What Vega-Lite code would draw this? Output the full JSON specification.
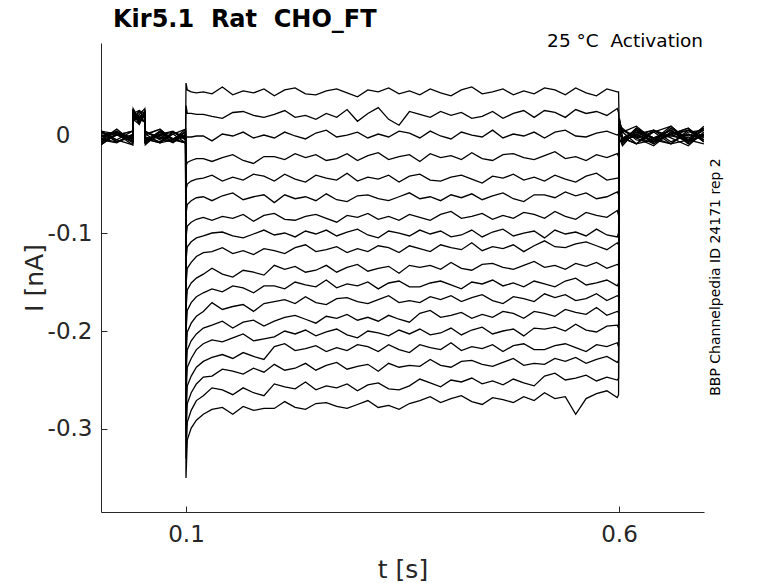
{
  "$schema": "https://vega.github.io/schema/vega-lite/v6.json",
  "width": 603,
  "height": 469,
  "autosize": {"type": "none"},
  "padding": {"left": 101, "top": 43, "right": 74, "bottom": 71},
  "background": "white",
  "config": {
    "view": {"stroke": null},
    "font": "DejaVu Sans"
  },
  "layer": [
    {
      "data": {"values": [
{"s":1,"t":0.002,"i":-0.005},{"s":1,"t":0.02,"i":0.006},{"s":1,"t":0.0385,"i":-0.007},{"s":1,"t":0.039,"i":0.021},{"s":1,"t":0.046,"i":0.017},{"s":1,"t":0.0525,"i":0.024},{"s":1,"t":0.053,"i":-0.008},{"s":1,"t":0.07,"i":0.001},{"s":1,"t":0.085,"i":0.004},{"s":1,"t":0.0995,"i":-0.005},
{"s":1,"t":0.1,"i":0.053},{"s":1,"t":0.1015,"i":0.046},{"s":1,"t":0.106,"i":0.044},{"s":1,"t":0.112,"i":0.043},{"s":1,"t":0.12,"i":0.044},
{"s":1,"t":0.13,"i":0.042},{"s":1,"t":0.142,"i":0.049},{"s":1,"t":0.154,"i":0.041},{"s":1,"t":0.166,"i":0.045},{"s":1,"t":0.178,"i":0.043},{"s":1,"t":0.19,"i":0.047},{"s":1,"t":0.202,"i":0.040},{"s":1,"t":0.214,"i":0.046},{"s":1,"t":0.226,"i":0.048},{"s":1,"t":0.238,"i":0.042},
{"s":1,"t":0.25,"i":0.041},{"s":1,"t":0.262,"i":0.045},{"s":1,"t":0.274,"i":0.047},{"s":1,"t":0.286,"i":0.043},{"s":1,"t":0.298,"i":0.039},{"s":1,"t":0.31,"i":0.046},{"s":1,"t":0.322,"i":0.044},{"s":1,"t":0.334,"i":0.048},{"s":1,"t":0.346,"i":0.042},{"s":1,"t":0.358,"i":0.045},
{"s":1,"t":0.37,"i":0.041},{"s":1,"t":0.382,"i":0.047},{"s":1,"t":0.394,"i":0.043},{"s":1,"t":0.406,"i":0.040},{"s":1,"t":0.418,"i":0.046},{"s":1,"t":0.43,"i":0.049},{"s":1,"t":0.442,"i":0.042},{"s":1,"t":0.454,"i":0.044},{"s":1,"t":0.466,"i":0.047},{"s":1,"t":0.478,"i":0.041},
{"s":1,"t":0.49,"i":0.045},{"s":1,"t":0.502,"i":0.042},{"s":1,"t":0.514,"i":0.048},{"s":1,"t":0.526,"i":0.046},{"s":1,"t":0.538,"i":0.041},{"s":1,"t":0.55,"i":0.048},{"s":1,"t":0.562,"i":0.043},{"s":1,"t":0.574,"i":0.040},{"s":1,"t":0.586,"i":0.047},{"s":1,"t":0.598,"i":0.044},
{"s":1,"t":0.5995,"i":0.044},{"s":1,"t":0.6005,"i":-0.006},{"s":1,"t":0.604,"i":-0.007},{"s":1,"t":0.62,"i":0.007},{"s":1,"t":0.64,"i":-0.003},{"s":1,"t":0.66,"i":-0.009},{"s":1,"t":0.68,"i":0.005},{"s":1,"t":0.698,"i":-0.001},

{"s":2,"t":0.002,"i":-0.005},{"s":2,"t":0.02,"i":-0.008},{"s":2,"t":0.0385,"i":0.001},{"s":2,"t":0.039,"i":0.024},{"s":2,"t":0.046,"i":0.017},{"s":2,"t":0.0525,"i":0.014},{"s":2,"t":0.053,"i":0.000},{"s":2,"t":0.07,"i":0.006},{"s":2,"t":0.085,"i":-0.005},{"s":2,"t":0.0995,"i":-0.002},
{"s":2,"t":0.1,"i":0.030},{"s":2,"t":0.1015,"i":0.022},{"s":2,"t":0.106,"i":0.022},{"s":2,"t":0.112,"i":0.021},{"s":2,"t":0.12,"i":0.021},
{"s":2,"t":0.13,"i":0.019},{"s":2,"t":0.142,"i":0.017},{"s":2,"t":0.154,"i":0.023},{"s":2,"t":0.166,"i":0.024},{"s":2,"t":0.178,"i":0.020},{"s":2,"t":0.19,"i":0.018},{"s":2,"t":0.202,"i":0.021},{"s":2,"t":0.214,"i":0.025},{"s":2,"t":0.226,"i":0.018},{"s":2,"t":0.238,"i":0.020},
{"s":2,"t":0.25,"i":0.016},{"s":2,"t":0.262,"i":0.022},{"s":2,"t":0.274,"i":0.018},{"s":2,"t":0.286,"i":0.026},{"s":2,"t":0.298,"i":0.014},{"s":2,"t":0.31,"i":0.022},{"s":2,"t":0.322,"i":0.028},{"s":2,"t":0.334,"i":0.016},{"s":2,"t":0.346,"i":0.010},{"s":2,"t":0.358,"i":0.024},
{"s":2,"t":0.37,"i":0.021},{"s":2,"t":0.382,"i":0.018},{"s":2,"t":0.394,"i":0.024},{"s":2,"t":0.406,"i":0.020},{"s":2,"t":0.418,"i":0.023},{"s":2,"t":0.43,"i":0.017},{"s":2,"t":0.442,"i":0.019},{"s":2,"t":0.454,"i":0.024},{"s":2,"t":0.466,"i":0.017},{"s":2,"t":0.478,"i":0.022},
{"s":2,"t":0.49,"i":0.025},{"s":2,"t":0.502,"i":0.018},{"s":2,"t":0.514,"i":0.025},{"s":2,"t":0.526,"i":0.023},{"s":2,"t":0.538,"i":0.018},{"s":2,"t":0.55,"i":0.026},{"s":2,"t":0.562,"i":0.022},{"s":2,"t":0.574,"i":0.024},{"s":2,"t":0.586,"i":0.020},{"s":2,"t":0.598,"i":0.027},
{"s":2,"t":0.5995,"i":0.023},{"s":2,"t":0.6005,"i":-0.003},{"s":2,"t":0.604,"i":-0.011},{"s":2,"t":0.62,"i":0.005},{"s":2,"t":0.64,"i":-0.003},{"s":2,"t":0.66,"i":0.001},{"s":2,"t":0.68,"i":-0.007},{"s":2,"t":0.698,"i":0.007},

{"s":3,"t":0.002,"i":-0.010},{"s":3,"t":0.02,"i":0.001},{"s":3,"t":0.0385,"i":-0.002},{"s":3,"t":0.039,"i":0.025},{"s":3,"t":0.046,"i":0.016},{"s":3,"t":0.0525,"i":0.021},{"s":3,"t":0.053,"i":-0.007},{"s":3,"t":0.07,"i":0.003},{"s":3,"t":0.085,"i":-0.004},{"s":3,"t":0.0995,"i":-0.008},
{"s":3,"t":0.1,"i":-0.003},{"s":3,"t":0.1015,"i":-0.002},{"s":3,"t":0.106,"i":-0.002},{"s":3,"t":0.112,"i":-0.001},{"s":3,"t":0.12,"i":-0.001},
{"s":3,"t":0.13,"i":-0.006},{"s":3,"t":0.142,"i":0.001},{"s":3,"t":0.154,"i":-0.001},{"s":3,"t":0.166,"i":0.003},{"s":3,"t":0.178,"i":-0.003},{"s":3,"t":0.19,"i":0.000},{"s":3,"t":0.202,"i":-0.003},{"s":3,"t":0.214,"i":0.003},{"s":3,"t":0.226,"i":-0.001},{"s":3,"t":0.238,"i":-0.004},
{"s":3,"t":0.25,"i":0.002},{"s":3,"t":0.262,"i":0.005},{"s":3,"t":0.274,"i":-0.002},{"s":3,"t":0.286,"i":0.000},{"s":3,"t":0.298,"i":0.003},{"s":3,"t":0.31,"i":-0.003},{"s":3,"t":0.322,"i":0.001},{"s":3,"t":0.334,"i":-0.002},{"s":3,"t":0.346,"i":0.004},{"s":3,"t":0.358,"i":0.002},
{"s":3,"t":0.37,"i":-0.003},{"s":3,"t":0.382,"i":0.004},{"s":3,"t":0.394,"i":-0.001},{"s":3,"t":0.406,"i":-0.004},{"s":3,"t":0.418,"i":0.003},{"s":3,"t":0.43,"i":0.000},{"s":3,"t":0.442,"i":-0.002},{"s":3,"t":0.454,"i":0.005},{"s":3,"t":0.466,"i":-0.003},{"s":3,"t":0.478,"i":0.001},
{"s":3,"t":0.49,"i":-0.001},{"s":3,"t":0.502,"i":0.003},{"s":3,"t":0.514,"i":-0.003},{"s":3,"t":0.526,"i":0.003},{"s":3,"t":0.538,"i":0.005},{"s":3,"t":0.55,"i":-0.001},{"s":3,"t":0.562,"i":-0.002},{"s":3,"t":0.574,"i":0.002},{"s":3,"t":0.586,"i":0.004},{"s":3,"t":0.598,"i":0.000},
{"s":3,"t":0.5995,"i":0.001},{"s":3,"t":0.6005,"i":0.002},{"s":3,"t":0.604,"i":0.007},{"s":3,"t":0.62,"i":-0.005},{"s":3,"t":0.64,"i":-0.007},{"s":3,"t":0.66,"i":0.001},{"s":3,"t":0.68,"i":0.005},{"s":3,"t":0.698,"i":-0.003},

{"s":4,"t":0.002,"i":-0.007},{"s":4,"t":0.02,"i":0.000},{"s":4,"t":0.0385,"i":0.004},{"s":4,"t":0.039,"i":0.016},{"s":4,"t":0.046,"i":0.011},{"s":4,"t":0.0525,"i":0.022},{"s":4,"t":0.053,"i":-0.002},{"s":4,"t":0.07,"i":-0.007},{"s":4,"t":0.085,"i":0.003},{"s":4,"t":0.0995,"i":-0.004},
{"s":4,"t":0.1,"i":-0.032},{"s":4,"t":0.1015,"i":-0.028},{"s":4,"t":0.106,"i":-0.026},{"s":4,"t":0.112,"i":-0.024},{"s":4,"t":0.12,"i":-0.024},
{"s":4,"t":0.13,"i":-0.027},{"s":4,"t":0.142,"i":-0.023},{"s":4,"t":0.154,"i":-0.020},{"s":4,"t":0.166,"i":-0.026},{"s":4,"t":0.178,"i":-0.029},{"s":4,"t":0.19,"i":-0.022},{"s":4,"t":0.202,"i":-0.022},{"s":4,"t":0.214,"i":-0.025},{"s":4,"t":0.226,"i":-0.019},{"s":4,"t":0.238,"i":-0.023},
{"s":4,"t":0.25,"i":-0.020},{"s":4,"t":0.262,"i":-0.026},{"s":4,"t":0.274,"i":-0.024},{"s":4,"t":0.286,"i":-0.019},{"s":4,"t":0.298,"i":-0.026},{"s":4,"t":0.31,"i":-0.021},{"s":4,"t":0.322,"i":-0.018},{"s":4,"t":0.334,"i":-0.025},{"s":4,"t":0.346,"i":-0.022},{"s":4,"t":0.358,"i":-0.020},
{"s":4,"t":0.37,"i":-0.027},{"s":4,"t":0.382,"i":-0.019},{"s":4,"t":0.394,"i":-0.023},{"s":4,"t":0.406,"i":-0.021},{"s":4,"t":0.418,"i":-0.025},{"s":4,"t":0.43,"i":-0.018},{"s":4,"t":0.442,"i":-0.024},{"s":4,"t":0.454,"i":-0.026},{"s":4,"t":0.466,"i":-0.020},{"s":4,"t":0.478,"i":-0.019},
{"s":4,"t":0.49,"i":-0.023},{"s":4,"t":0.502,"i":-0.025},{"s":4,"t":0.514,"i":-0.021},{"s":4,"t":0.526,"i":-0.017},{"s":4,"t":0.538,"i":-0.024},{"s":4,"t":0.55,"i":-0.022},{"s":4,"t":0.562,"i":-0.026},{"s":4,"t":0.574,"i":-0.020},{"s":4,"t":0.586,"i":-0.023},{"s":4,"t":0.598,"i":-0.019},
{"s":4,"t":0.5995,"i":-0.022},{"s":4,"t":0.6005,"i":0.003},{"s":4,"t":0.604,"i":-0.005},{"s":4,"t":0.62,"i":-0.001},{"s":4,"t":0.64,"i":-0.009},{"s":4,"t":0.66,"i":0.003},{"s":4,"t":0.68,"i":-0.003},{"s":4,"t":0.698,"i":0.005},

{"s":5,"t":0.002,"i":0.003},{"s":5,"t":0.02,"i":-0.007},{"s":5,"t":0.0385,"i":0.000},{"s":5,"t":0.039,"i":0.016},{"s":5,"t":0.046,"i":0.025},{"s":5,"t":0.0525,"i":0.022},{"s":5,"t":0.053,"i":-0.007},{"s":5,"t":0.07,"i":0.004},{"s":5,"t":0.085,"i":-0.004},{"s":5,"t":0.0995,"i":-0.008},
{"s":5,"t":0.1,"i":-0.056},{"s":5,"t":0.1015,"i":-0.050},{"s":5,"t":0.106,"i":-0.047},{"s":5,"t":0.112,"i":-0.045},{"s":5,"t":0.12,"i":-0.044},
{"s":5,"t":0.13,"i":-0.041},{"s":5,"t":0.142,"i":-0.047},{"s":5,"t":0.154,"i":-0.043},{"s":5,"t":0.166,"i":-0.046},{"s":5,"t":0.178,"i":-0.040},{"s":5,"t":0.19,"i":-0.042},{"s":5,"t":0.202,"i":-0.047},{"s":5,"t":0.214,"i":-0.040},{"s":5,"t":0.226,"i":-0.045},{"s":5,"t":0.238,"i":-0.048},
{"s":5,"t":0.25,"i":-0.041},{"s":5,"t":0.262,"i":-0.044},{"s":5,"t":0.274,"i":-0.046},{"s":5,"t":0.286,"i":-0.039},{"s":5,"t":0.298,"i":-0.047},{"s":5,"t":0.31,"i":-0.043},{"s":5,"t":0.322,"i":-0.045},{"s":5,"t":0.334,"i":-0.041},{"s":5,"t":0.346,"i":-0.048},{"s":5,"t":0.358,"i":-0.042},
{"s":5,"t":0.37,"i":-0.040},{"s":5,"t":0.382,"i":-0.046},{"s":5,"t":0.394,"i":-0.047},{"s":5,"t":0.406,"i":-0.043},{"s":5,"t":0.418,"i":-0.041},{"s":5,"t":0.43,"i":-0.045},{"s":5,"t":0.442,"i":-0.049},{"s":5,"t":0.454,"i":-0.042},{"s":5,"t":0.466,"i":-0.044},{"s":5,"t":0.478,"i":-0.040},
{"s":5,"t":0.49,"i":-0.046},{"s":5,"t":0.502,"i":-0.043},{"s":5,"t":0.514,"i":-0.047},{"s":5,"t":0.526,"i":-0.041},{"s":5,"t":0.538,"i":-0.045},{"s":5,"t":0.55,"i":-0.048},{"s":5,"t":0.562,"i":-0.042},{"s":5,"t":0.574,"i":-0.039},{"s":5,"t":0.586,"i":-0.046},{"s":5,"t":0.598,"i":-0.044},
{"s":5,"t":0.5995,"i":-0.044},{"s":5,"t":0.6005,"i":0.004},{"s":5,"t":0.604,"i":-0.003},{"s":5,"t":0.62,"i":-0.009},{"s":5,"t":0.64,"i":0.003},{"s":5,"t":0.66,"i":0.009},{"s":5,"t":0.68,"i":-0.005},{"s":5,"t":0.698,"i":-0.001},

{"s":6,"t":0.002,"i":-0.008},{"s":6,"t":0.02,"i":0.000},{"s":6,"t":0.0385,"i":0.004},{"s":6,"t":0.039,"i":0.014},{"s":6,"t":0.046,"i":0.019},{"s":6,"t":0.0525,"i":0.022},{"s":6,"t":0.053,"i":-0.010},{"s":6,"t":0.07,"i":0.003},{"s":6,"t":0.085,"i":-0.004},{"s":6,"t":0.0995,"i":0.000},
{"s":6,"t":0.1,"i":-0.080},{"s":6,"t":0.1015,"i":-0.071},{"s":6,"t":0.106,"i":-0.067},{"s":6,"t":0.112,"i":-0.064},{"s":6,"t":0.12,"i":-0.063},
{"s":6,"t":0.13,"i":-0.067},{"s":6,"t":0.142,"i":-0.062},{"s":6,"t":0.154,"i":-0.059},{"s":6,"t":0.166,"i":-0.066},{"s":6,"t":0.178,"i":-0.063},{"s":6,"t":0.19,"i":-0.061},{"s":6,"t":0.202,"i":-0.069},{"s":6,"t":0.214,"i":-0.061},{"s":6,"t":0.226,"i":-0.065},{"s":6,"t":0.238,"i":-0.063},
{"s":6,"t":0.25,"i":-0.067},{"s":6,"t":0.262,"i":-0.060},{"s":6,"t":0.274,"i":-0.066},{"s":6,"t":0.286,"i":-0.068},{"s":6,"t":0.298,"i":-0.062},{"s":6,"t":0.31,"i":-0.061},{"s":6,"t":0.322,"i":-0.065},{"s":6,"t":0.334,"i":-0.067},{"s":6,"t":0.346,"i":-0.063},{"s":6,"t":0.358,"i":-0.059},
{"s":6,"t":0.37,"i":-0.065},{"s":6,"t":0.382,"i":-0.063},{"s":6,"t":0.394,"i":-0.067},{"s":6,"t":0.406,"i":-0.061},{"s":6,"t":0.418,"i":-0.064},{"s":6,"t":0.43,"i":-0.060},{"s":6,"t":0.442,"i":-0.066},{"s":6,"t":0.454,"i":-0.062},{"s":6,"t":0.466,"i":-0.059},{"s":6,"t":0.478,"i":-0.065},
{"s":6,"t":0.49,"i":-0.068},{"s":6,"t":0.502,"i":-0.061},{"s":6,"t":0.514,"i":-0.061},{"s":6,"t":0.526,"i":-0.064},{"s":6,"t":0.538,"i":-0.058},{"s":6,"t":0.55,"i":-0.062},{"s":6,"t":0.562,"i":-0.059},{"s":6,"t":0.574,"i":-0.065},{"s":6,"t":0.586,"i":-0.063},{"s":6,"t":0.598,"i":-0.058},
{"s":6,"t":0.5995,"i":-0.061},{"s":6,"t":0.6005,"i":0.005},{"s":6,"t":0.604,"i":0.005},{"s":6,"t":0.62,"i":-0.003},{"s":6,"t":0.64,"i":0.003},{"s":6,"t":0.66,"i":-0.009},{"s":6,"t":0.68,"i":-0.005},{"s":6,"t":0.698,"i":0.005},

{"s":7,"t":0.002,"i":-0.007},{"s":7,"t":0.02,"i":0.000},{"s":7,"t":0.0385,"i":-0.004},{"s":7,"t":0.039,"i":0.024},{"s":7,"t":0.046,"i":0.013},{"s":7,"t":0.0525,"i":0.022},{"s":7,"t":0.053,"i":0.004},{"s":7,"t":0.07,"i":-0.005},{"s":7,"t":0.085,"i":-0.007},{"s":7,"t":0.0995,"i":0.000},
{"s":7,"t":0.1,"i":-0.105},{"s":7,"t":0.1015,"i":-0.093},{"s":7,"t":0.106,"i":-0.089},{"s":7,"t":0.112,"i":-0.086},{"s":7,"t":0.12,"i":-0.084},
{"s":7,"t":0.13,"i":-0.087},{"s":7,"t":0.142,"i":-0.083},{"s":7,"t":0.154,"i":-0.085},{"s":7,"t":0.166,"i":-0.081},{"s":7,"t":0.178,"i":-0.088},{"s":7,"t":0.19,"i":-0.082},{"s":7,"t":0.202,"i":-0.080},{"s":7,"t":0.214,"i":-0.086},{"s":7,"t":0.226,"i":-0.087},{"s":7,"t":0.238,"i":-0.083},
{"s":7,"t":0.25,"i":-0.081},{"s":7,"t":0.262,"i":-0.085},{"s":7,"t":0.274,"i":-0.089},{"s":7,"t":0.286,"i":-0.082},{"s":7,"t":0.298,"i":-0.084},{"s":7,"t":0.31,"i":-0.080},{"s":7,"t":0.322,"i":-0.086},{"s":7,"t":0.334,"i":-0.083},{"s":7,"t":0.346,"i":-0.087},{"s":7,"t":0.358,"i":-0.081},
{"s":7,"t":0.37,"i":-0.084},{"s":7,"t":0.382,"i":-0.087},{"s":7,"t":0.394,"i":-0.081},{"s":7,"t":0.406,"i":-0.078},{"s":7,"t":0.418,"i":-0.085},{"s":7,"t":0.43,"i":-0.083},{"s":7,"t":0.442,"i":-0.080},{"s":7,"t":0.454,"i":-0.086},{"s":7,"t":0.466,"i":-0.082},{"s":7,"t":0.478,"i":-0.085},
{"s":7,"t":0.49,"i":-0.079},{"s":7,"t":0.502,"i":-0.081},{"s":7,"t":0.514,"i":-0.085},{"s":7,"t":0.526,"i":-0.078},{"s":7,"t":0.538,"i":-0.083},{"s":7,"t":0.55,"i":-0.086},{"s":7,"t":0.562,"i":-0.079},{"s":7,"t":0.574,"i":-0.082},{"s":7,"t":0.586,"i":-0.084},{"s":7,"t":0.598,"i":-0.077},
{"s":7,"t":0.5995,"i":-0.082},{"s":7,"t":0.6005,"i":0.006},{"s":7,"t":0.604,"i":-0.003},{"s":7,"t":0.62,"i":-0.009},{"s":7,"t":0.64,"i":0.005},{"s":7,"t":0.66,"i":-0.001},{"s":7,"t":0.68,"i":-0.005},{"s":7,"t":0.698,"i":0.009},

{"s":8,"t":0.002,"i":0.001},{"s":8,"t":0.02,"i":0.003},{"s":8,"t":0.0385,"i":-0.004},{"s":8,"t":0.039,"i":0.014},{"s":8,"t":0.046,"i":0.021},{"s":8,"t":0.0525,"i":0.027},{"s":8,"t":0.053,"i":-0.005},{"s":8,"t":0.07,"i":-0.002},{"s":8,"t":0.085,"i":-0.008},{"s":8,"t":0.0995,"i":0.001},
{"s":8,"t":0.1,"i":-0.128},{"s":8,"t":0.1015,"i":-0.114},{"s":8,"t":0.106,"i":-0.109},{"s":8,"t":0.112,"i":-0.105},{"s":8,"t":0.12,"i":-0.103},
{"s":8,"t":0.13,"i":-0.100},{"s":8,"t":0.142,"i":-0.099},{"s":8,"t":0.154,"i":-0.103},{"s":8,"t":0.166,"i":-0.105},{"s":8,"t":0.178,"i":-0.101},{"s":8,"t":0.19,"i":-0.097},{"s":8,"t":0.202,"i":-0.102},{"s":8,"t":0.214,"i":-0.100},{"s":8,"t":0.226,"i":-0.104},{"s":8,"t":0.238,"i":-0.098},
{"s":8,"t":0.25,"i":-0.101},{"s":8,"t":0.262,"i":-0.097},{"s":8,"t":0.274,"i":-0.103},{"s":8,"t":0.286,"i":-0.099},{"s":8,"t":0.298,"i":-0.096},{"s":8,"t":0.31,"i":-0.102},{"s":8,"t":0.322,"i":-0.105},{"s":8,"t":0.334,"i":-0.098},{"s":8,"t":0.346,"i":-0.100},{"s":8,"t":0.358,"i":-0.103},
{"s":8,"t":0.37,"i":-0.097},{"s":8,"t":0.382,"i":-0.101},{"s":8,"t":0.394,"i":-0.098},{"s":8,"t":0.406,"i":-0.104},{"s":8,"t":0.418,"i":-0.102},{"s":8,"t":0.43,"i":-0.097},{"s":8,"t":0.442,"i":-0.104},{"s":8,"t":0.454,"i":-0.099},{"s":8,"t":0.466,"i":-0.096},{"s":8,"t":0.478,"i":-0.103},
{"s":8,"t":0.49,"i":-0.100},{"s":8,"t":0.502,"i":-0.098},{"s":8,"t":0.514,"i":-0.105},{"s":8,"t":0.526,"i":-0.097},{"s":8,"t":0.538,"i":-0.101},{"s":8,"t":0.55,"i":-0.099},{"s":8,"t":0.562,"i":-0.103},{"s":8,"t":0.574,"i":-0.096},{"s":8,"t":0.586,"i":-0.102},{"s":8,"t":0.598,"i":-0.104},
{"s":8,"t":0.5995,"i":-0.100},{"s":8,"t":0.6005,"i":0.007},{"s":8,"t":0.604,"i":-0.003},{"s":8,"t":0.62,"i":0.001},{"s":8,"t":0.64,"i":-0.007},{"s":8,"t":0.66,"i":0.007},{"s":8,"t":0.68,"i":-0.005},{"s":8,"t":0.698,"i":-0.009},

{"s":9,"t":0.002,"i":-0.002},{"s":9,"t":0.02,"i":0.004},{"s":9,"t":0.0385,"i":-0.005},{"s":9,"t":0.039,"i":0.021},{"s":9,"t":0.046,"i":0.014},{"s":9,"t":0.0525,"i":0.024},{"s":9,"t":0.053,"i":-0.004},{"s":9,"t":0.07,"i":-0.008},{"s":9,"t":0.085,"i":0.001},{"s":9,"t":0.0995,"i":0.006},
{"s":9,"t":0.1,"i":-0.153},{"s":9,"t":0.1015,"i":-0.136},{"s":9,"t":0.106,"i":-0.130},{"s":9,"t":0.112,"i":-0.124},{"s":9,"t":0.12,"i":-0.120},
{"s":9,"t":0.13,"i":-0.119},{"s":9,"t":0.142,"i":-0.115},{"s":9,"t":0.154,"i":-0.121},{"s":9,"t":0.166,"i":-0.118},{"s":9,"t":0.178,"i":-0.122},{"s":9,"t":0.19,"i":-0.116},{"s":9,"t":0.202,"i":-0.118},{"s":9,"t":0.214,"i":-0.121},{"s":9,"t":0.226,"i":-0.115},{"s":9,"t":0.238,"i":-0.112},
{"s":9,"t":0.25,"i":-0.119},{"s":9,"t":0.262,"i":-0.117},{"s":9,"t":0.274,"i":-0.114},{"s":9,"t":0.286,"i":-0.120},{"s":9,"t":0.298,"i":-0.116},{"s":9,"t":0.31,"i":-0.119},{"s":9,"t":0.322,"i":-0.113},{"s":9,"t":0.334,"i":-0.115},{"s":9,"t":0.346,"i":-0.120},{"s":9,"t":0.358,"i":-0.113},
{"s":9,"t":0.37,"i":-0.116},{"s":9,"t":0.382,"i":-0.119},{"s":9,"t":0.394,"i":-0.112},{"s":9,"t":0.406,"i":-0.115},{"s":9,"t":0.418,"i":-0.117},{"s":9,"t":0.43,"i":-0.110},{"s":9,"t":0.442,"i":-0.118},{"s":9,"t":0.454,"i":-0.114},{"s":9,"t":0.466,"i":-0.116},{"s":9,"t":0.478,"i":-0.112},
{"s":9,"t":0.49,"i":-0.119},{"s":9,"t":0.502,"i":-0.113},{"s":9,"t":0.514,"i":-0.108},{"s":9,"t":0.526,"i":-0.114},{"s":9,"t":0.538,"i":-0.115},{"s":9,"t":0.55,"i":-0.111},{"s":9,"t":0.562,"i":-0.109},{"s":9,"t":0.574,"i":-0.113},{"s":9,"t":0.586,"i":-0.117},{"s":9,"t":0.598,"i":-0.110},
{"s":9,"t":0.5995,"i":-0.112},{"s":9,"t":0.6005,"i":0.008},{"s":9,"t":0.604,"i":-0.007},{"s":9,"t":0.62,"i":0.001},{"s":9,"t":0.64,"i":0.005},{"s":9,"t":0.66,"i":-0.003},{"s":9,"t":0.68,"i":-0.011},{"s":9,"t":0.698,"i":0.003},

{"s":10,"t":0.002,"i":0.004},{"s":10,"t":0.02,"i":-0.005},{"s":10,"t":0.0385,"i":-0.010},{"s":10,"t":0.039,"i":0.022},{"s":10,"t":0.046,"i":0.019},{"s":10,"t":0.0525,"i":0.014},{"s":10,"t":0.053,"i":0.003},{"s":10,"t":0.07,"i":-0.004},{"s":10,"t":0.085,"i":0.001},{"s":10,"t":0.0995,"i":-0.008},
{"s":10,"t":0.1,"i":-0.178},{"s":10,"t":0.1015,"i":-0.158},{"s":10,"t":0.106,"i":-0.151},{"s":10,"t":0.112,"i":-0.146},{"s":10,"t":0.12,"i":-0.142},
{"s":10,"t":0.13,"i":-0.136},{"s":10,"t":0.142,"i":-0.142},{"s":10,"t":0.154,"i":-0.145},{"s":10,"t":0.166,"i":-0.138},{"s":10,"t":0.178,"i":-0.140},{"s":10,"t":0.19,"i":-0.143},{"s":10,"t":0.202,"i":-0.133},{"s":10,"t":0.214,"i":-0.137},{"s":10,"t":0.226,"i":-0.134},{"s":10,"t":0.238,"i":-0.140},
{"s":10,"t":0.25,"i":-0.138},{"s":10,"t":0.262,"i":-0.133},{"s":10,"t":0.274,"i":-0.140},{"s":10,"t":0.286,"i":-0.135},{"s":10,"t":0.298,"i":-0.132},{"s":10,"t":0.31,"i":-0.139},{"s":10,"t":0.322,"i":-0.136},{"s":10,"t":0.334,"i":-0.134},{"s":10,"t":0.346,"i":-0.141},{"s":10,"t":0.358,"i":-0.133},
{"s":10,"t":0.37,"i":-0.135},{"s":10,"t":0.382,"i":-0.133},{"s":10,"t":0.394,"i":-0.137},{"s":10,"t":0.406,"i":-0.130},{"s":10,"t":0.418,"i":-0.136},{"s":10,"t":0.43,"i":-0.138},{"s":10,"t":0.442,"i":-0.132},{"s":10,"t":0.454,"i":-0.131},{"s":10,"t":0.466,"i":-0.135},{"s":10,"t":0.478,"i":-0.137},
{"s":10,"t":0.49,"i":-0.133},{"s":10,"t":0.502,"i":-0.129},{"s":10,"t":0.514,"i":-0.135},{"s":10,"t":0.526,"i":-0.133},{"s":10,"t":0.538,"i":-0.137},{"s":10,"t":0.55,"i":-0.131},{"s":10,"t":0.562,"i":-0.134},{"s":10,"t":0.574,"i":-0.130},{"s":10,"t":0.586,"i":-0.136},{"s":10,"t":0.598,"i":-0.132},
{"s":10,"t":0.5995,"i":-0.133},{"s":10,"t":0.6005,"i":0.009},{"s":10,"t":0.604,"i":-0.009},{"s":10,"t":0.62,"i":0.003},{"s":10,"t":0.64,"i":-0.003},{"s":10,"t":0.66,"i":0.005},{"s":10,"t":0.68,"i":-0.007},{"s":10,"t":0.698,"i":0.001},

{"s":11,"t":0.002,"i":0.000},{"s":11,"t":0.02,"i":-0.005},{"s":11,"t":0.0385,"i":0.004},{"s":11,"t":0.039,"i":0.022},{"s":11,"t":0.046,"i":0.014},{"s":11,"t":0.0525,"i":0.025},{"s":11,"t":0.053,"i":-0.004},{"s":11,"t":0.07,"i":-0.008},{"s":11,"t":0.085,"i":0.003},{"s":11,"t":0.0995,"i":-0.002},
{"s":11,"t":0.1,"i":-0.201},{"s":11,"t":0.1015,"i":-0.179},{"s":11,"t":0.106,"i":-0.171},{"s":11,"t":0.112,"i":-0.165},{"s":11,"t":0.12,"i":-0.161},
{"s":11,"t":0.13,"i":-0.157},{"s":11,"t":0.142,"i":-0.160},{"s":11,"t":0.154,"i":-0.154},{"s":11,"t":0.166,"i":-0.156},{"s":11,"t":0.178,"i":-0.161},{"s":11,"t":0.19,"i":-0.154},{"s":11,"t":0.202,"i":-0.154},{"s":11,"t":0.214,"i":-0.157},{"s":11,"t":0.226,"i":-0.150},{"s":11,"t":0.238,"i":-0.153},
{"s":11,"t":0.25,"i":-0.155},{"s":11,"t":0.262,"i":-0.148},{"s":11,"t":0.274,"i":-0.156},{"s":11,"t":0.286,"i":-0.152},{"s":11,"t":0.298,"i":-0.154},{"s":11,"t":0.31,"i":-0.150},{"s":11,"t":0.322,"i":-0.157},{"s":11,"t":0.334,"i":-0.151},{"s":11,"t":0.346,"i":-0.149},{"s":11,"t":0.358,"i":-0.155},
{"s":11,"t":0.37,"i":-0.155},{"s":11,"t":0.382,"i":-0.151},{"s":11,"t":0.394,"i":-0.149},{"s":11,"t":0.406,"i":-0.153},{"s":11,"t":0.418,"i":-0.157},{"s":11,"t":0.43,"i":-0.150},{"s":11,"t":0.442,"i":-0.152},{"s":11,"t":0.454,"i":-0.148},{"s":11,"t":0.466,"i":-0.154},{"s":11,"t":0.478,"i":-0.151},
{"s":11,"t":0.49,"i":-0.155},{"s":11,"t":0.502,"i":-0.149},{"s":11,"t":0.514,"i":-0.152},{"s":11,"t":0.526,"i":-0.155},{"s":11,"t":0.538,"i":-0.149},{"s":11,"t":0.55,"i":-0.146},{"s":11,"t":0.562,"i":-0.153},{"s":11,"t":0.574,"i":-0.151},{"s":11,"t":0.586,"i":-0.148},{"s":11,"t":0.598,"i":-0.154},
{"s":11,"t":0.5995,"i":-0.151},{"s":11,"t":0.6005,"i":0.010},{"s":11,"t":0.604,"i":0.003},{"s":11,"t":0.62,"i":0.009},{"s":11,"t":0.64,"i":-0.005},{"s":11,"t":0.66,"i":-0.001},{"s":11,"t":0.68,"i":0.005},{"s":11,"t":0.698,"i":-0.007},

{"s":12,"t":0.002,"i":0.004},{"s":12,"t":0.02,"i":-0.007},{"s":12,"t":0.0385,"i":-0.002},{"s":12,"t":0.039,"i":0.022},{"s":12,"t":0.046,"i":0.011},{"s":12,"t":0.0525,"i":0.024},{"s":12,"t":0.053,"i":-0.004},{"s":12,"t":0.07,"i":0.000},{"s":12,"t":0.085,"i":-0.007},{"s":12,"t":0.0995,"i":0.004},
{"s":12,"t":0.1,"i":-0.226},{"s":12,"t":0.1015,"i":-0.201},{"s":12,"t":0.106,"i":-0.192},{"s":12,"t":0.112,"i":-0.185},{"s":12,"t":0.12,"i":-0.180},
{"s":12,"t":0.13,"i":-0.171},{"s":12,"t":0.142,"i":-0.178},{"s":12,"t":0.154,"i":-0.175},{"s":12,"t":0.166,"i":-0.173},{"s":12,"t":0.178,"i":-0.180},{"s":12,"t":0.19,"i":-0.172},{"s":12,"t":0.202,"i":-0.170},{"s":12,"t":0.214,"i":-0.168},{"s":12,"t":0.226,"i":-0.172},{"s":12,"t":0.238,"i":-0.165},
{"s":12,"t":0.25,"i":-0.171},{"s":12,"t":0.262,"i":-0.173},{"s":12,"t":0.274,"i":-0.167},{"s":12,"t":0.286,"i":-0.166},{"s":12,"t":0.298,"i":-0.170},{"s":12,"t":0.31,"i":-0.172},{"s":12,"t":0.322,"i":-0.168},{"s":12,"t":0.334,"i":-0.164},{"s":12,"t":0.346,"i":-0.171},{"s":12,"t":0.358,"i":-0.169},
{"s":12,"t":0.37,"i":-0.171},{"s":12,"t":0.382,"i":-0.165},{"s":12,"t":0.394,"i":-0.168},{"s":12,"t":0.406,"i":-0.164},{"s":12,"t":0.418,"i":-0.170},{"s":12,"t":0.43,"i":-0.166},{"s":12,"t":0.442,"i":-0.163},{"s":12,"t":0.454,"i":-0.169},{"s":12,"t":0.466,"i":-0.172},{"s":12,"t":0.478,"i":-0.165},
{"s":12,"t":0.49,"i":-0.167},{"s":12,"t":0.502,"i":-0.170},{"s":12,"t":0.514,"i":-0.162},{"s":12,"t":0.526,"i":-0.166},{"s":12,"t":0.538,"i":-0.163},{"s":12,"t":0.55,"i":-0.169},{"s":12,"t":0.562,"i":-0.167},{"s":12,"t":0.574,"i":-0.162},{"s":12,"t":0.586,"i":-0.169},{"s":12,"t":0.598,"i":-0.164},
{"s":12,"t":0.5995,"i":-0.165},{"s":12,"t":0.6005,"i":0.011},{"s":12,"t":0.604,"i":0.003},{"s":12,"t":0.62,"i":-0.009},{"s":12,"t":0.64,"i":-0.005},{"s":12,"t":0.66,"i":0.005},{"s":12,"t":0.68,"i":-0.009},{"s":12,"t":0.698,"i":0.001},

{"s":13,"t":0.002,"i":-0.004},{"s":13,"t":0.02,"i":0.003},{"s":13,"t":0.0385,"i":-0.008},{"s":13,"t":0.039,"i":0.022},{"s":13,"t":0.046,"i":0.025},{"s":13,"t":0.0525,"i":0.016},{"s":13,"t":0.053,"i":-0.007},{"s":13,"t":0.07,"i":0.000},{"s":13,"t":0.085,"i":0.003},{"s":13,"t":0.0995,"i":-0.004},
{"s":13,"t":0.1,"i":-0.246},{"s":13,"t":0.1015,"i":-0.219},{"s":13,"t":0.106,"i":-0.210},{"s":13,"t":0.112,"i":-0.203},{"s":13,"t":0.12,"i":-0.197},
{"s":13,"t":0.13,"i":-0.194},{"s":13,"t":0.142,"i":-0.190},{"s":13,"t":0.154,"i":-0.197},{"s":13,"t":0.166,"i":-0.191},{"s":13,"t":0.178,"i":-0.189},{"s":13,"t":0.19,"i":-0.195},{"s":13,"t":0.202,"i":-0.190},{"s":13,"t":0.214,"i":-0.186},{"s":13,"t":0.226,"i":-0.184},{"s":13,"t":0.238,"i":-0.188},
{"s":13,"t":0.25,"i":-0.192},{"s":13,"t":0.262,"i":-0.185},{"s":13,"t":0.274,"i":-0.187},{"s":13,"t":0.286,"i":-0.183},{"s":13,"t":0.298,"i":-0.189},{"s":13,"t":0.31,"i":-0.186},{"s":13,"t":0.322,"i":-0.190},{"s":13,"t":0.334,"i":-0.184},{"s":13,"t":0.346,"i":-0.188},{"s":13,"t":0.358,"i":-0.191},
{"s":13,"t":0.37,"i":-0.182},{"s":13,"t":0.382,"i":-0.179},{"s":13,"t":0.394,"i":-0.186},{"s":13,"t":0.406,"i":-0.184},{"s":13,"t":0.418,"i":-0.181},{"s":13,"t":0.43,"i":-0.187},{"s":13,"t":0.442,"i":-0.183},{"s":13,"t":0.454,"i":-0.186},{"s":13,"t":0.466,"i":-0.180},{"s":13,"t":0.478,"i":-0.182},
{"s":13,"t":0.49,"i":-0.187},{"s":13,"t":0.502,"i":-0.180},{"s":13,"t":0.514,"i":-0.182},{"s":13,"t":0.526,"i":-0.185},{"s":13,"t":0.538,"i":-0.178},{"s":13,"t":0.55,"i":-0.181},{"s":13,"t":0.562,"i":-0.183},{"s":13,"t":0.574,"i":-0.176},{"s":13,"t":0.586,"i":-0.184},{"s":13,"t":0.598,"i":-0.180},
{"s":13,"t":0.5995,"i":-0.181},{"s":13,"t":0.6005,"i":0.012},{"s":13,"t":0.604,"i":0.005},{"s":13,"t":0.62,"i":-0.001},{"s":13,"t":0.64,"i":-0.005},{"s":13,"t":0.66,"i":0.009},{"s":13,"t":0.68,"i":-0.007},{"s":13,"t":0.698,"i":0.001},

{"s":14,"t":0.002,"i":-0.004},{"s":14,"t":0.02,"i":-0.007},{"s":14,"t":0.0385,"i":0.000},{"s":14,"t":0.039,"i":0.027},{"s":14,"t":0.046,"i":0.016},{"s":14,"t":0.0525,"i":0.019},{"s":14,"t":0.053,"i":-0.008},{"s":14,"t":0.07,"i":0.001},{"s":14,"t":0.085,"i":-0.004},{"s":14,"t":0.0995,"i":0.003},
{"s":14,"t":0.1,"i":-0.267},{"s":14,"t":0.1015,"i":-0.237},{"s":14,"t":0.106,"i":-0.228},{"s":14,"t":0.112,"i":-0.219},{"s":14,"t":0.12,"i":-0.213},
{"s":14,"t":0.13,"i":-0.209},{"s":14,"t":0.142,"i":-0.211},{"s":14,"t":0.154,"i":-0.207},{"s":14,"t":0.166,"i":-0.203},{"s":14,"t":0.178,"i":-0.210},{"s":14,"t":0.19,"i":-0.208},{"s":14,"t":0.202,"i":-0.206},{"s":14,"t":0.214,"i":-0.200},{"s":14,"t":0.226,"i":-0.203},{"s":14,"t":0.238,"i":-0.199},
{"s":14,"t":0.25,"i":-0.205},{"s":14,"t":0.262,"i":-0.201},{"s":14,"t":0.274,"i":-0.198},{"s":14,"t":0.286,"i":-0.204},{"s":14,"t":0.298,"i":-0.207},{"s":14,"t":0.31,"i":-0.200},{"s":14,"t":0.322,"i":-0.202},{"s":14,"t":0.334,"i":-0.205},{"s":14,"t":0.346,"i":-0.199},{"s":14,"t":0.358,"i":-0.203},
{"s":14,"t":0.37,"i":-0.198},{"s":14,"t":0.382,"i":-0.204},{"s":14,"t":0.394,"i":-0.202},{"s":14,"t":0.406,"i":-0.197},{"s":14,"t":0.418,"i":-0.204},{"s":14,"t":0.43,"i":-0.199},{"s":14,"t":0.442,"i":-0.196},{"s":14,"t":0.454,"i":-0.203},{"s":14,"t":0.466,"i":-0.200},{"s":14,"t":0.478,"i":-0.198},
{"s":14,"t":0.49,"i":-0.205},{"s":14,"t":0.502,"i":-0.197},{"s":14,"t":0.514,"i":-0.198},{"s":14,"t":0.526,"i":-0.196},{"s":14,"t":0.538,"i":-0.200},{"s":14,"t":0.55,"i":-0.193},{"s":14,"t":0.562,"i":-0.199},{"s":14,"t":0.574,"i":-0.201},{"s":14,"t":0.586,"i":-0.195},{"s":14,"t":0.598,"i":-0.194},
{"s":14,"t":0.5995,"i":-0.197},{"s":14,"t":0.6005,"i":0.013},{"s":14,"t":0.604,"i":-0.007},{"s":14,"t":0.62,"i":0.007},{"s":14,"t":0.64,"i":-0.005},{"s":14,"t":0.66,"i":-0.009},{"s":14,"t":0.68,"i":0.003},{"s":14,"t":0.698,"i":0.005},

{"s":15,"t":0.002,"i":-0.005},{"s":15,"t":0.02,"i":0.000},{"s":15,"t":0.0385,"i":-0.007},{"s":15,"t":0.039,"i":0.024},{"s":15,"t":0.046,"i":0.017},{"s":15,"t":0.0525,"i":0.013},{"s":15,"t":0.053,"i":0.001},{"s":15,"t":0.07,"i":0.006},{"s":15,"t":0.085,"i":-0.005},{"s":15,"t":0.0995,"i":-0.002},
{"s":15,"t":0.1,"i":-0.288},{"s":15,"t":0.1015,"i":-0.256},{"s":15,"t":0.106,"i":-0.246},{"s":15,"t":0.112,"i":-0.237},{"s":15,"t":0.12,"i":-0.231},
{"s":15,"t":0.13,"i":-0.227},{"s":15,"t":0.142,"i":-0.224},{"s":15,"t":0.154,"i":-0.228},{"s":15,"t":0.166,"i":-0.222},{"s":15,"t":0.178,"i":-0.226},{"s":15,"t":0.19,"i":-0.229},{"s":15,"t":0.202,"i":-0.216},{"s":15,"t":0.214,"i":-0.213},{"s":15,"t":0.226,"i":-0.220},{"s":15,"t":0.238,"i":-0.218},
{"s":15,"t":0.25,"i":-0.215},{"s":15,"t":0.262,"i":-0.221},{"s":15,"t":0.274,"i":-0.217},{"s":15,"t":0.286,"i":-0.220},{"s":15,"t":0.298,"i":-0.214},{"s":15,"t":0.31,"i":-0.216},{"s":15,"t":0.322,"i":-0.221},{"s":15,"t":0.334,"i":-0.214},{"s":15,"t":0.346,"i":-0.219},{"s":15,"t":0.358,"i":-0.222},
{"s":15,"t":0.37,"i":-0.214},{"s":15,"t":0.382,"i":-0.217},{"s":15,"t":0.394,"i":-0.219},{"s":15,"t":0.406,"i":-0.212},{"s":15,"t":0.418,"i":-0.220},{"s":15,"t":0.43,"i":-0.216},{"s":15,"t":0.442,"i":-0.218},{"s":15,"t":0.454,"i":-0.214},{"s":15,"t":0.466,"i":-0.221},{"s":15,"t":0.478,"i":-0.215},
{"s":15,"t":0.49,"i":-0.213},{"s":15,"t":0.502,"i":-0.219},{"s":15,"t":0.514,"i":-0.219},{"s":15,"t":0.526,"i":-0.215},{"s":15,"t":0.538,"i":-0.213},{"s":15,"t":0.55,"i":-0.217},{"s":15,"t":0.562,"i":-0.221},{"s":15,"t":0.574,"i":-0.214},{"s":15,"t":0.586,"i":-0.216},{"s":15,"t":0.598,"i":-0.212},
{"s":15,"t":0.5995,"i":-0.216},{"s":15,"t":0.6005,"i":0.014},{"s":15,"t":0.604,"i":0.005},{"s":15,"t":0.62,"i":-0.003},{"s":15,"t":0.64,"i":-0.011},{"s":15,"t":0.66,"i":0.003},{"s":15,"t":0.68,"i":-0.001},{"s":15,"t":0.698,"i":0.007},

{"s":16,"t":0.002,"i":-0.010},{"s":16,"t":0.02,"i":0.001},{"s":16,"t":0.0385,"i":-0.002},{"s":16,"t":0.039,"i":0.014},{"s":16,"t":0.046,"i":0.024},{"s":16,"t":0.0525,"i":0.017},{"s":16,"t":0.053,"i":0.001},{"s":16,"t":0.07,"i":-0.008},{"s":16,"t":0.085,"i":-0.005},{"s":16,"t":0.0995,"i":0.003},
{"s":16,"t":0.1,"i":-0.308},{"s":16,"t":0.1015,"i":-0.274},{"s":16,"t":0.106,"i":-0.263},{"s":16,"t":0.112,"i":-0.254},{"s":16,"t":0.12,"i":-0.247},
{"s":16,"t":0.13,"i":-0.246},{"s":16,"t":0.142,"i":-0.239},{"s":16,"t":0.154,"i":-0.241},{"s":16,"t":0.166,"i":-0.244},{"s":16,"t":0.178,"i":-0.238},{"s":16,"t":0.19,"i":-0.242},{"s":16,"t":0.202,"i":-0.234},{"s":16,"t":0.214,"i":-0.240},{"s":16,"t":0.226,"i":-0.238},{"s":16,"t":0.238,"i":-0.233},
{"s":16,"t":0.25,"i":-0.240},{"s":16,"t":0.262,"i":-0.235},{"s":16,"t":0.274,"i":-0.232},{"s":16,"t":0.286,"i":-0.239},{"s":16,"t":0.298,"i":-0.236},{"s":16,"t":0.31,"i":-0.234},{"s":16,"t":0.322,"i":-0.241},{"s":16,"t":0.334,"i":-0.233},{"s":16,"t":0.346,"i":-0.237},{"s":16,"t":0.358,"i":-0.235},
{"s":16,"t":0.37,"i":-0.236},{"s":16,"t":0.382,"i":-0.229},{"s":16,"t":0.394,"i":-0.235},{"s":16,"t":0.406,"i":-0.237},{"s":16,"t":0.418,"i":-0.231},{"s":16,"t":0.43,"i":-0.230},{"s":16,"t":0.442,"i":-0.234},{"s":16,"t":0.454,"i":-0.236},{"s":16,"t":0.466,"i":-0.232},{"s":16,"t":0.478,"i":-0.228},
{"s":16,"t":0.49,"i":-0.235},{"s":16,"t":0.502,"i":-0.233},{"s":16,"t":0.514,"i":-0.234},{"s":16,"t":0.526,"i":-0.228},{"s":16,"t":0.538,"i":-0.231},{"s":16,"t":0.55,"i":-0.227},{"s":16,"t":0.562,"i":-0.233},{"s":16,"t":0.574,"i":-0.229},{"s":16,"t":0.586,"i":-0.226},{"s":16,"t":0.598,"i":-0.232},
{"s":16,"t":0.5995,"i":-0.230},{"s":16,"t":0.6005,"i":0.015},{"s":16,"t":0.604,"i":-0.003},{"s":16,"t":0.62,"i":0.005},{"s":16,"t":0.64,"i":-0.007},{"s":16,"t":0.66,"i":0.001},{"s":16,"t":0.68,"i":0.007},{"s":16,"t":0.698,"i":-0.005},

{"s":17,"t":0.002,"i":0.004},{"s":17,"t":0.02,"i":0.001},{"s":17,"t":0.0385,"i":-0.007},{"s":17,"t":0.039,"i":0.025},{"s":17,"t":0.046,"i":0.017},{"s":17,"t":0.0525,"i":0.013},{"s":17,"t":0.053,"i":0.003},{"s":17,"t":0.07,"i":-0.002},{"s":17,"t":0.085,"i":-0.005},{"s":17,"t":0.0995,"i":0.006},
{"s":17,"t":0.1,"i":-0.330},{"s":17,"t":0.1015,"i":-0.293},{"s":17,"t":0.106,"i":-0.281},{"s":17,"t":0.112,"i":-0.271},{"s":17,"t":0.12,"i":-0.266},
{"s":17,"t":0.13,"i":-0.258},{"s":17,"t":0.142,"i":-0.260},{"s":17,"t":0.154,"i":-0.265},{"s":17,"t":0.166,"i":-0.258},{"s":17,"t":0.178,"i":-0.263},{"s":17,"t":0.19,"i":-0.266},{"s":17,"t":0.202,"i":-0.254},{"s":17,"t":0.214,"i":-0.257},{"s":17,"t":0.226,"i":-0.259},{"s":17,"t":0.238,"i":-0.252},
{"s":17,"t":0.25,"i":-0.260},{"s":17,"t":0.262,"i":-0.256},{"s":17,"t":0.274,"i":-0.258},{"s":17,"t":0.286,"i":-0.254},{"s":17,"t":0.298,"i":-0.261},{"s":17,"t":0.31,"i":-0.255},{"s":17,"t":0.322,"i":-0.253},{"s":17,"t":0.334,"i":-0.259},{"s":17,"t":0.346,"i":-0.260},{"s":17,"t":0.358,"i":-0.256},
{"s":17,"t":0.37,"i":-0.249},{"s":17,"t":0.382,"i":-0.253},{"s":17,"t":0.394,"i":-0.257},{"s":17,"t":0.406,"i":-0.250},{"s":17,"t":0.418,"i":-0.252},{"s":17,"t":0.43,"i":-0.248},{"s":17,"t":0.442,"i":-0.254},{"s":17,"t":0.454,"i":-0.251},{"s":17,"t":0.466,"i":-0.255},{"s":17,"t":0.478,"i":-0.249},
{"s":17,"t":0.49,"i":-0.253},{"s":17,"t":0.502,"i":-0.256},{"s":17,"t":0.514,"i":-0.246},{"s":17,"t":0.526,"i":-0.243},{"s":17,"t":0.538,"i":-0.250},{"s":17,"t":0.55,"i":-0.248},{"s":17,"t":0.562,"i":-0.245},{"s":17,"t":0.574,"i":-0.251},{"s":17,"t":0.586,"i":-0.247},{"s":17,"t":0.598,"i":-0.250},
{"s":17,"t":0.5995,"i":-0.248},{"s":17,"t":0.6005,"i":0.016},{"s":17,"t":0.604,"i":-0.005},{"s":17,"t":0.62,"i":-0.001},{"s":17,"t":0.64,"i":0.005},{"s":17,"t":0.66,"i":-0.007},{"s":17,"t":0.68,"i":0.001},{"s":17,"t":0.698,"i":-0.005},

{"s":18,"t":0.002,"i":-0.002},{"s":18,"t":0.02,"i":0.001},{"s":18,"t":0.0385,"i":-0.010},{"s":18,"t":0.039,"i":0.024},{"s":18,"t":0.046,"i":0.017},{"s":18,"t":0.0525,"i":0.021},{"s":18,"t":0.053,"i":-0.007},{"s":18,"t":0.07,"i":0.004},{"s":18,"t":0.085,"i":-0.005},{"s":18,"t":0.0995,"i":-0.008},
{"s":18,"t":0.1,"i":-0.350},{"s":18,"t":0.1015,"i":-0.311},{"s":18,"t":0.106,"i":-0.299},{"s":18,"t":0.112,"i":-0.291},{"s":18,"t":0.12,"i":-0.285},
{"s":18,"t":0.13,"i":-0.280},{"s":18,"t":0.142,"i":-0.278},{"s":18,"t":0.154,"i":-0.285},{"s":18,"t":0.166,"i":-0.277},{"s":18,"t":0.178,"i":-0.281},{"s":18,"t":0.19,"i":-0.279},{"s":18,"t":0.202,"i":-0.279},{"s":18,"t":0.214,"i":-0.272},{"s":18,"t":0.226,"i":-0.278},{"s":18,"t":0.238,"i":-0.280},
{"s":18,"t":0.25,"i":-0.274},{"s":18,"t":0.262,"i":-0.273},{"s":18,"t":0.274,"i":-0.277},{"s":18,"t":0.286,"i":-0.279},{"s":18,"t":0.298,"i":-0.275},{"s":18,"t":0.31,"i":-0.271},{"s":18,"t":0.322,"i":-0.278},{"s":18,"t":0.334,"i":-0.276},{"s":18,"t":0.346,"i":-0.280},{"s":18,"t":0.358,"i":-0.274},
{"s":18,"t":0.37,"i":-0.271},{"s":18,"t":0.382,"i":-0.267},{"s":18,"t":0.394,"i":-0.273},{"s":18,"t":0.406,"i":-0.269},{"s":18,"t":0.418,"i":-0.266},{"s":18,"t":0.43,"i":-0.272},{"s":18,"t":0.442,"i":-0.275},{"s":18,"t":0.454,"i":-0.268},{"s":18,"t":0.466,"i":-0.270},{"s":18,"t":0.478,"i":-0.273},
{"s":18,"t":0.49,"i":-0.267},{"s":18,"t":0.502,"i":-0.271},{"s":18,"t":0.514,"i":-0.263},{"s":18,"t":0.526,"i":-0.269},{"s":18,"t":0.538,"i":-0.267},{"s":18,"t":0.55,"i":-0.285},{"s":18,"t":0.562,"i":-0.269},{"s":18,"t":0.574,"i":-0.264},{"s":18,"t":0.586,"i":-0.261},{"s":18,"t":0.598,"i":-0.268},
{"s":18,"t":0.5995,"i":-0.265},{"s":18,"t":0.6005,"i":0.017},{"s":18,"t":0.604,"i":-0.005},{"s":18,"t":0.62,"i":0.005},{"s":18,"t":0.64,"i":-0.009},{"s":18,"t":0.66,"i":0.001},{"s":18,"t":0.68,"i":0.007},{"s":18,"t":0.698,"i":-0.007}
      ]},
      "mark": {"type": "line", "color": "black", "strokeWidth": 1.3, "clip": true},
      "encoding": {
        "x": {
          "field": "t",
          "type": "quantitative",
          "scale": {"domain": [0.00185, 0.69815], "nice": false, "zero": false},
          "axis": {
            "title": "t [s]",
            "values": [0.1, 0.6],
            "format": ".1f",
            "grid": false,
            "tickSize": -6,
            "labelPadding": 17.5,
            "labelFontSize": 23,
            "labelFlush": false,
            "titleFontSize": 25,
            "titleFontWeight": "normal",
            "titleY": 65,
            "titleBaseline": "alphabetic",
            "domainColor": "#262626",
            "tickColor": "#262626",
            "labelColor": "#262626",
            "titleColor": "#262626"
          }
        },
        "y": {
          "field": "i",
          "type": "quantitative",
          "scale": {"domain": [-0.3847, 0.0939], "nice": false, "zero": false},
          "axis": {
            "title": "I [nA]",
            "values": [0, -0.1, -0.2, -0.3],
            "labelExpr": "datum.value == 0 ? '0' : '-' + format(abs(datum.value), '.1f')",
            "grid": false,
            "tickSize": -6,
            "labelPadding": {"condition": {"test": "datum.value == 0", "value": 37}, "value": 15},
            "labelFontSize": 23,
            "labelFlush": false,
            "titleFontSize": 25,
            "titleFontWeight": "normal",
            "titleX": -59,
            "titleBaseline": "alphabetic",
            "domainColor": "#262626",
            "tickColor": "#262626",
            "labelColor": "#262626",
            "titleColor": "#262626"
          }
        },
        "detail": {"field": "s", "type": "nominal"}
      }
    },
    {
      "data": {"values": [{}]},
      "mark": {"type": "text", "text": "Kir5.1\u00a0 Rat\u00a0 CHO_FT", "align": "left", "baseline": "alphabetic", "fontSize": 24, "fontWeight": "bold", "color": "black"},
      "encoding": {
        "x": {"datum": 0.0157, "type": "quantitative"},
        "y": {"datum": 0.1102, "type": "quantitative"}
      }
    },
    {
      "data": {"values": [{}]},
      "mark": {"type": "text", "text": "25 °C\u00a0 Activation", "align": "right", "baseline": "alphabetic", "fontSize": 18.5, "color": "black"},
      "encoding": {
        "x": {"datum": 0.6971, "type": "quantitative"},
        "y": {"datum": 0.0898, "type": "quantitative"}
      }
    },
    {
      "data": {"values": [{}]},
      "mark": {"type": "text", "text": "BBP Channelpedia ID 24171 rep 2", "angle": 270, "align": "center", "baseline": "middle", "fontSize": 14, "color": "black"},
      "encoding": {
        "x": {"datum": 0.712, "type": "quantitative"},
        "y": {"datum": -0.1449, "type": "quantitative"}
      }
    }
  ]
}
